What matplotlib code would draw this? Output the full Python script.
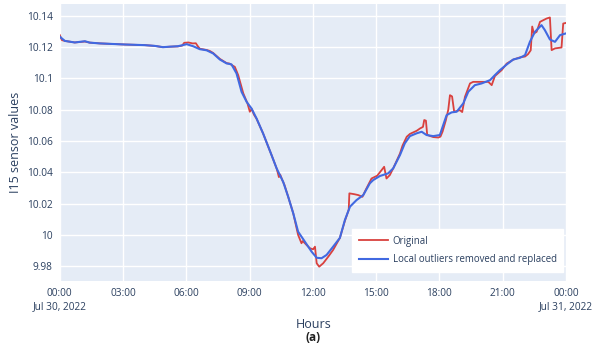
import matplotlib
matplotlib.use("Agg")
import matplotlib.pyplot as plt

plt.rcParams['font.family'] = ['Open Sans', 'DejaVu Sans']

# hours since Jul 30, 2022 00:00 and sensor readings
red_hours = [0.00, 0.10, 0.24, 0.71, 1.19, 1.42, 1.90, 3.08, 4.03, 4.51, 4.89, 5.22, 5.60, 5.80, 5.90,
             6.10, 6.30, 6.45, 6.55, 6.64, 6.96, 7.11, 7.27, 7.59, 7.91, 8.05, 8.16, 8.30, 8.46, 8.70,
             8.90, 9.01, 9.10, 9.20, 9.33, 9.64, 10.04, 10.28, 10.39, 10.45, 10.55, 10.65, 10.83, 11.07,
             11.30, 11.46, 11.52, 11.70, 11.86, 12.01, 12.10, 12.18, 12.30, 12.49, 12.73, 12.96, 13.28,
             13.52, 13.70, 13.73, 13.95, 14.15, 14.35, 14.50, 14.78, 15.05, 15.26, 15.38, 15.49, 15.65,
             15.81, 16.13, 16.25, 16.45, 16.60, 16.92, 17.08, 17.22, 17.28, 17.36, 17.42, 17.55, 17.71,
             17.95, 18.05, 18.15, 18.30, 18.42, 18.50, 18.60, 18.70, 18.97, 19.08, 19.21, 19.45, 19.60,
             20.32, 20.48, 20.63, 20.95, 21.19, 21.50, 21.82, 22.06, 22.20, 22.33, 22.40, 22.48, 22.61,
             22.77, 23.08, 23.24, 23.32, 23.48, 23.79, 23.87, 24.00]
red_values = [10.1277, 10.1245, 10.1240, 10.1230, 10.1236, 10.1229, 10.1224, 10.1217, 10.1213, 10.1208,
              10.1200, 10.1203, 10.1205, 10.1210, 10.1228, 10.1230, 10.1224, 10.1225, 10.1205, 10.1190,
              10.1182, 10.1176, 10.1163, 10.1125, 10.1098, 10.1095, 10.1085, 10.1074, 10.1021, 10.0905,
              10.0840, 10.0787, 10.0805, 10.0770, 10.0742, 10.0648, 10.0510, 10.0425, 10.0369, 10.0385,
              10.0350, 10.0320, 10.0243, 10.0137, 9.9999, 9.9946, 9.9960, 9.9935, 9.9914, 9.9907,
              9.9924, 9.9818, 9.9796, 9.9818, 9.9860, 9.9903, 9.9980, 10.0090, 10.0160, 10.0265,
              10.0260, 10.0254, 10.0243, 10.0286, 10.0360, 10.0378, 10.0414, 10.0435, 10.0360, 10.0382,
              10.0425, 10.0520, 10.0570, 10.0627, 10.0645, 10.0665, 10.0680, 10.0690, 10.0734, 10.0730,
              10.0640, 10.0632, 10.0625, 10.0622, 10.0628, 10.0660, 10.0730, 10.0800, 10.0893, 10.0885,
              10.0787, 10.0797, 10.0785, 10.0882, 10.0968, 10.0978, 10.0978, 10.0957, 10.1015, 10.1053,
              10.1095, 10.1120, 10.1135, 10.1140, 10.1155, 10.1180, 10.1332, 10.1288, 10.1298, 10.1362,
              10.1383, 10.1390, 10.1181, 10.1192, 10.1198, 10.1351, 10.1355]

blue_hours = [0.00, 0.24, 0.71, 1.19, 1.42, 1.90, 3.08, 4.03, 4.51, 4.89, 5.22, 5.60, 5.83, 6.02, 6.32,
              6.64, 6.96, 7.27, 7.59, 7.91, 8.14, 8.38, 8.62, 8.86, 9.09, 9.33, 9.64, 10.04, 10.28, 10.59,
              10.83, 11.07, 11.30, 11.62, 11.94, 12.18, 12.41, 12.65, 12.96, 13.28, 13.52, 13.76, 14.07,
              14.39, 14.70, 14.86, 15.18, 15.57, 15.81, 16.13, 16.36, 16.60, 16.92, 17.16, 17.39, 17.71,
              18.02, 18.34, 18.58, 18.82, 19.13, 19.37, 19.68, 20.00, 20.40, 20.63, 20.87, 21.19, 21.50,
              21.82, 22.06, 22.29, 22.53, 22.84, 23.00, 23.24, 23.48, 23.72, 24.00]
blue_values = [10.1267, 10.1240, 10.1230, 10.1238, 10.1229, 10.1224, 10.1217, 10.1213, 10.1208, 10.1200,
               10.1203, 10.1206, 10.1213, 10.1219, 10.1206, 10.1187, 10.1180, 10.1160, 10.1121, 10.1096,
               10.1090, 10.1032, 10.0914, 10.0850, 10.0808, 10.0744, 10.0648, 10.0510, 10.0425, 10.0339,
               10.0243, 10.0137, 10.0020, 9.9956, 9.9892, 9.9853, 9.9850, 9.9871, 9.9924, 9.9980,
               10.0095, 10.0180, 10.0222, 10.0254, 10.0329, 10.0350, 10.0376, 10.0393, 10.0425, 10.0510,
               10.0585, 10.0631, 10.0649, 10.0659, 10.0638, 10.0631, 10.0638, 10.0765, 10.0783, 10.0787,
               10.0840, 10.0915, 10.0957, 10.0968, 10.0989, 10.1021, 10.1053, 10.1089, 10.1121, 10.1132,
               10.1149, 10.1234, 10.1298, 10.1341, 10.1309, 10.1249, 10.1234, 10.1277, 10.1288]

tick_hours = [0, 3, 6, 9, 12, 15, 18, 21, 24]
tick_labels = ['00:00\nJul 30, 2022', '03:00', '06:00', '09:00', '12:00', '15:00', '18:00', '21:00',
               '00:00\nJul 31, 2022']
y_ticks = [9.98, 10.0, 10.02, 10.04, 10.06, 10.08, 10.1, 10.12, 10.14]
y_labels = ['9.98', '10', '10.02', '10.04', '10.06', '10.08', '10.1', '10.12', '10.14']

text_color = '#2a3f5f'

fig = plt.figure(figsize=(5.92, 3.47), dpi=100)
ax = fig.add_axes([0.101, 0.19, 0.855, 0.798])
ax.set_facecolor('#E5ECF6')

ax.plot(red_hours, red_values, color='#d9413e', lw=1.3, label='Original', zorder=3)
ax.plot(blue_hours, blue_values, color='#4169E1', lw=1.5, label='Local outliers removed and replaced', zorder=4)

ax.set_xlim(0, 24)
ax.set_ylim(9.9704, 10.1475)
ax.set_xticks(tick_hours)
ax.set_xticklabels(tick_labels, ha='center', multialignment='center', linespacing=1.25)
ax.set_yticks(y_ticks)
ax.set_yticklabels(y_labels)
ax.grid(True, color='white', lw=1.0)
ax.set_axisbelow(True)
for s in ax.spines.values():
    s.set_visible(False)
ax.tick_params(length=0, labelsize=7.3, colors=text_color, pad=5)

fig.text(0.529, 0.066, 'Hours', ha='center', va='center', fontsize=9, color=text_color)
fig.text(0.026, 0.589, 'I15 sensor values', ha='center', va='center', rotation=90, fontsize=9,
         color=text_color)
fig.text(0.529, 0.026, '(a)', ha='center', va='center', fontsize=8.5, fontweight='bold', color='#222222')

leg = ax.legend(loc='lower left', bbox_to_anchor=(0.578, 0.034), frameon=True, fancybox=False,
                fontsize=6.9, handlelength=3.0, borderpad=0.7, labelspacing=0.75, handletextpad=0.5,
                borderaxespad=0.0)
leg.get_frame().set_facecolor('white')
leg.get_frame().set_edgecolor('white')
leg.get_frame().set_alpha(1.0)
for t in leg.get_texts():
    t.set_color(text_color)

fig.savefig('out.png', dpi=100)
